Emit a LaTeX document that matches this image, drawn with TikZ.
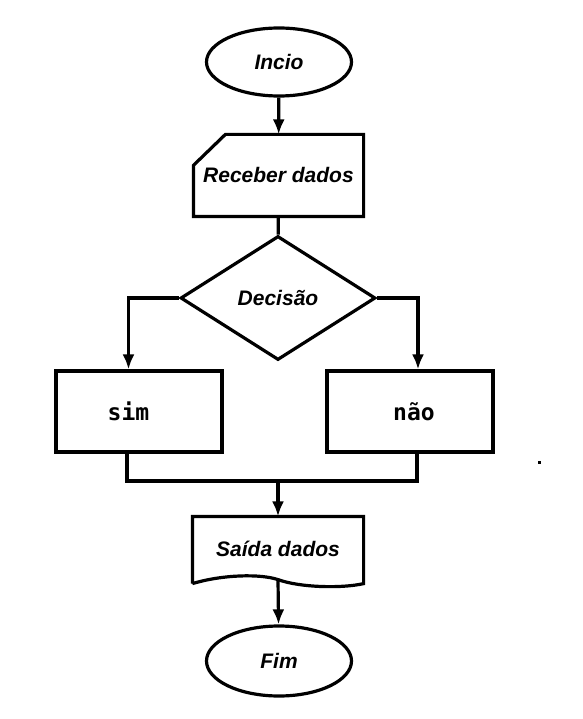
\documentclass[tikz,border=0pt]{standalone}
\usepackage{fontspec}
\setmainfont{Liberation Sans}
\newfontfamily\monofont{DejaVu Sans Mono}
\usetikzlibrary{positioning, calc, arrows.meta, shapes.geometric}
\tikzset{>={Latex[length=15pt,width=12pt]}}

\begin{document}
\begin{tikzpicture}
    [
        x=1pt, y=-1pt, line width=3.2pt, inner sep=0pt,
        term_node/.style={ellipse, draw=black, minimum width=145pt, minimum height=68pt, font=\fontsize{21}{24}\selectfont\bfseries\itshape},
        io_node/.style={rectangle, draw=none, font=\fontsize{21}{24}\selectfont\bfseries\itshape},
        dec_node/.style={diamond, draw=black, minimum width=195pt, minimum height=124pt, font=\fontsize{21}{24}\selectfont\bfseries\itshape},
        proc_node/.style={rectangle, draw=black, minimum width=166pt, minimum height=81pt},
        proc_text/.style={font=\fontsize{23}{26}\selectfont\monofont\bfseries},
    ]

  \useasboundingbox (0,0) rectangle (582,719);

  \node[term_node] (inicio) at (279,62) {Incio};
  \node[io_node, minimum width=167pt, minimum height=79pt] (entrada) at (278.5,175.5) {Receber dados};
  \node[dec_node] (decisao) at (278,298) {Decisão};
  \node[proc_node, label={[proc_text, xshift=-10.5pt]center:sim}] (sim) at (139,411.5) {};
  \node[proc_node, label={[proc_text, xshift=4pt]center:não}] (nao) at (410,411.5) {};
  \coordinate (juncao) at (278,481);
  \node[io_node, minimum width=168pt, minimum height=62pt] (saida) at (278,549) {Saída dados};
  \node[term_node, minimum height=70pt] (fim) at (279,661) {Fim};

  % manual input shape
  \draw ($(entrada.north west)+(32,0)$) -- (entrada.north east) -- (entrada.south east)
    -- (entrada.south west) -- ($(entrada.north west)+(0,31)$) -- cycle;
  % document shape
  \draw ($(saida.south west)+(0,2)$) -- (saida.north west) -- (saida.north east) -- ($(saida.south east)+(0,2)$)
    .. controls +(-22,5) and +(22,8) .. ($(saida.south)+(0,-2)$)
    .. controls +(-18,-6) and +(30,-9) .. ($(saida.south west)+(0,2)$);

  \draw[->] (inicio) -- (entrada);
  \draw (entrada) -- (decisao);
  \draw[->] (decisao.west) -| ($(sim.north)+(-10.5,0)$);
  \draw[->] (decisao.east) -| ($(nao.north)+(8,0)$);
  \draw ($(sim.south)+(-12,0)$) |- (juncao) -| ($(nao.south)+(7,0)$);
  \draw[->] (juncao) -- (saida);
  \draw[->] ($(saida.south)+(0,-2)$) -- (fim);

  \fill (538,460.5) rectangle (541,463.5);
\end{tikzpicture}
\end{document}
